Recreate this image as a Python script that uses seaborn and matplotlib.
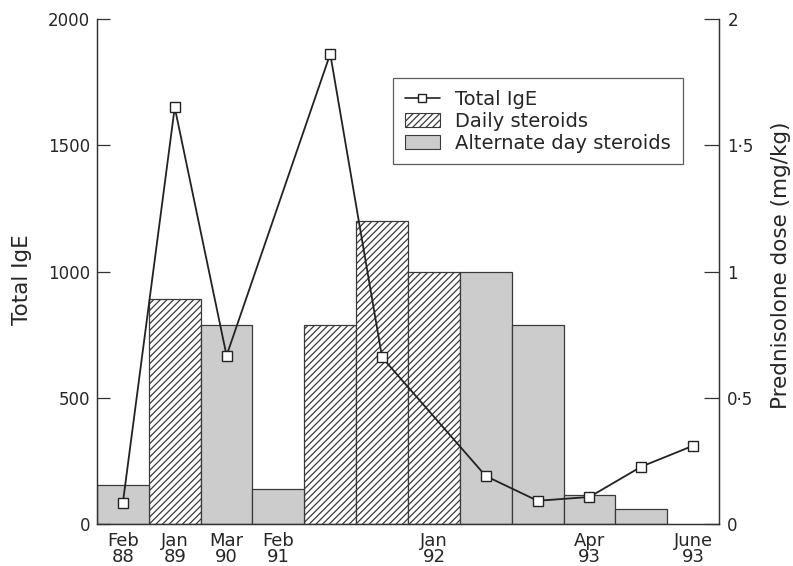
import numpy as np
import pandas as pd
import matplotlib
matplotlib.use("Agg")
import matplotlib.pyplot as plt
import seaborn as sns
from matplotlib.lines import Line2D
from matplotlib.patches import Patch

sns.set_style("white")
plt.rcParams['font.family'] = ['DejaVu Sans']
plt.rcParams['hatch.linewidth'] = 0.9

# 스테로이드 용량 막대 (mg/kg), 슬롯 중앙 위치
bar_pos = [0.5, 1.5, 2.5, 3.5, 4.5, 5.5, 6.5, 7.5, 8.5, 9.5, 10.5]
bar_dose = [0.155, 0.89, 0.79, 0.14, 0.79, 1.20, 1.00, 1.00, 0.79, 0.115, 0.06]
bar_type = ['Alternate day steroids', 'Daily steroids', 'Alternate day steroids',
            'Alternate day steroids', 'Daily steroids', 'Daily steroids',
            'Daily steroids', 'Alternate day steroids', 'Alternate day steroids',
            'Alternate day steroids', 'Alternate day steroids']

# Total IgE 측정값
ige_pos = [0.5, 1.5, 2.5, 4.5, 5.5, 7.5, 8.5, 9.5, 10.5, 11.5]
ige_val = [85, 1650, 667, 1862, 660, 190, 92, 107, 227, 310]

# x축 라벨
tick_pos = [0.5, 1.5, 2.5, 3.5, 6.5, 9.5, 11.5]
tick_lab = ['Feb\n88', 'Jan\n89', 'Mar\n90', 'Feb\n91', 'Jan\n92', 'Apr\n93', 'June\n93']

bars = pd.DataFrame({'pos': bar_pos, 'dose': bar_dose, 'type': bar_type})
ige = pd.DataFrame({'pos': ige_pos, 'ige': ige_val})

fig = plt.figure(figsize=(7.93, 5.66), dpi=100)
ax = fig.add_axes([0.1223, 0.0742, 0.7844, 0.8922])
ax2 = ax.twinx()

order = ['Daily steroids', 'Alternate day steroids']
sns.barplot(data=bars, x='pos', y='dose', hue='type', hue_order=order,
            palette={'Daily steroids': 'white', 'Alternate day steroids': '#cccccc'},
            dodge=False, native_scale=True, width=1, edgecolor='#3a3a3a',
            linewidth=0.9, legend=False, ax=ax2)
for p in ax2.containers[0]:
    p.set_hatch('/////')

sns.lineplot(data=ige, x='pos', y='ige', color='#222222', linewidth=1.3,
             marker='s', markersize=7.5, markerfacecolor='white',
             markeredgecolor='#222222', markeredgewidth=1.0, ax=ax, zorder=5)

ax.set_zorder(ax2.get_zorder() + 1)
ax.patch.set_visible(False)

ax.set_xlim(0, 12)
ax.set_ylim(0, 2000)
ax2.set_ylim(0, 2)
ax.set_yticks([0, 500, 1000, 1500, 2000])
ax2.set_yticks([0, 0.5, 1, 1.5, 2])
ax2.set_yticklabels(['0', '0·5', '1', '1·5', '2'])
ax.set_xticks(tick_pos)
ax.set_xticklabels(tick_lab, linespacing=0.82)

ax.set_xlabel('')
ax2.set_xlabel('')
ax.set_ylabel('Total IgE', fontsize=15.5)
ax2.set_ylabel('Prednisolone dose (mg/kg)', fontsize=15.5)
ax.yaxis.label.set(va='center', ha='center', rotation_mode='anchor')
ax2.yaxis.label.set(va='center', ha='center', rotation_mode='anchor')
ax.yaxis.set_label_coords(-0.12, 0.484)
ax2.yaxis.set_label_coords(1.1, 0.513)

ax.tick_params(axis='y', direction='in', length=9.5, width=0.9, labelsize=12,
               pad=5, left=True, color='#333333')
ax.tick_params(axis='x', length=0, labelsize=13, pad=6)
ax2.tick_params(axis='y', direction='in', length=11, width=0.9, labelsize=12,
                pad=6, right=True, color='#333333')

for a in (ax, ax2):
    a.spines['top'].set_visible(False)
    for s in ('left', 'right', 'bottom'):
        a.spines[s].set_color('#333333')
        a.spines[s].set_linewidth(0.9)

handles = [
    Line2D([], [], color='#222222', linewidth=1.2, marker='s', markersize=6,
           markerfacecolor='white', markeredgecolor='#222222'),
    Patch(facecolor='white', edgecolor='#3a3a3a', hatch='/////', linewidth=0.8),
    Patch(facecolor='#cccccc', edgecolor='#3a3a3a', linewidth=0.8),
]
leg = ax.legend(handles, ['Total IgE', 'Daily steroids', 'Alternate day steroids'],
                loc='upper left', bbox_to_anchor=(0.476, 0.883), fontsize=14,
                frameon=True, fancybox=False, handlelength=1.8, handleheight=0.72,
                handletextpad=0.8, labelspacing=0.15, borderpad=0.6, borderaxespad=0)
leg.get_frame().set_edgecolor('#333333')
leg.get_frame().set_linewidth(0.9)

fig.savefig('out.png', dpi=100, facecolor='white')
